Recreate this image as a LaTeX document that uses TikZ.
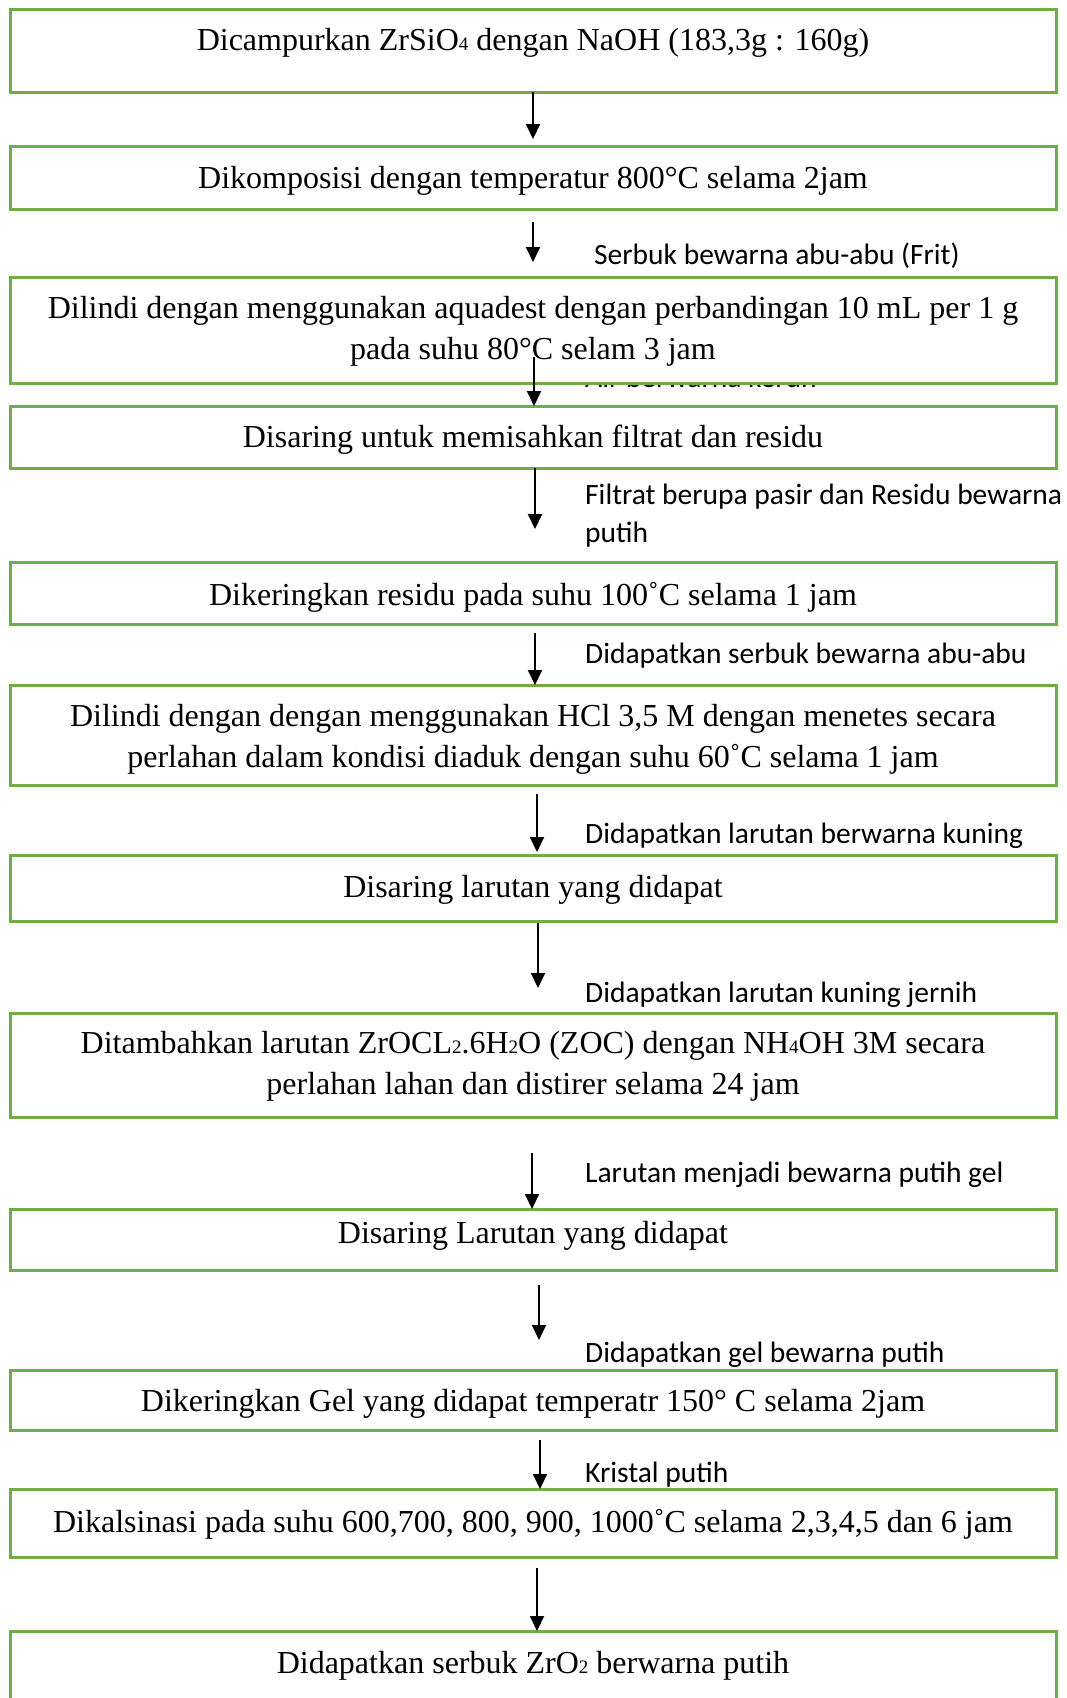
\documentclass[tikz,border=0pt]{standalone}
\usepackage{fontspec}
\setmainfont{Liberation Serif}
\newfontfamily\notefont{Carlito}
\usetikzlibrary{arrows.meta}
\definecolor{boxgreen}{RGB}{112,173,71}
\newcommand{\chemnum}[1]{{\fontsize{19}{19}\selectfont #1}}

\begin{document}
\begin{tikzpicture}[x=1pt,y=-1pt,
  stepbox/.style={draw=boxgreen, line width=3pt, fill=white, minimum width=1046pt, inner sep=0pt},
  boxtext/.style={font=\fontsize{32}{41}\selectfont, align=center, inner sep=0pt},
  note/.style={font=\notefont\fontsize{29.5}{38}\selectfont, anchor=west, align=left, inner sep=0pt},
  arrow/.style={-{Triangle[width=14pt,length=15pt]}, line width=2pt}]
\useasboundingbox (0,0) rectangle (1067,1698);

% note that box 3 hides
\node[note] (n3) at (585,377.5) {Air berwarna keruh};

% boxes
\node[stepbox, minimum height=83pt] (b1) at (533,50.5) {};
\node[stepbox, minimum height=63pt] (b2) at (533,177.5) {};
\node[stepbox, minimum height=106pt] (b3) at (533,330) {};
\node[stepbox, minimum height=62pt] (b4) at (533,437) {};
\node[stepbox, minimum height=62pt] (b5) at (533,593) {};
\node[stepbox, minimum height=100pt] (b6) at (533,735) {};
\node[stepbox, minimum height=66pt] (b7) at (533,888) {};
\node[stepbox, minimum height=104pt] (b8) at (533,1065) {};
\node[stepbox, minimum height=61pt] (b9) at (533,1239.5) {};
\node[stepbox, minimum height=60pt] (b10) at (533,1400) {};
\node[stepbox, minimum height=68pt] (b11) at (533,1523) {};
\node[stepbox, minimum height=129pt] (b12) at (533,1695.5) {};

% box texts
\node[boxtext] (t1) at (533,43) {Dicampurkan ZrSiO\chemnum{4} dengan NaOH (183,3g : 160g)};
\node[boxtext] (t2) at (533,181) {Dikomposisi dengan temperatur 800°C selama 2jam};
\node[boxtext] (t3) at (533,331) {Dilindi dengan menggunakan aquadest dengan perbandingan 10 mL per 1 g\\pada suhu 80°C selam 3 jam};
\node[boxtext] (t4) at (533,440) {Disaring untuk memisahkan filtrat dan residu};
\node[boxtext] (t5) at (533,597) {Dikeringkan residu pada suhu 100˚C selama 1 jam};
\node[boxtext] (t6) at (533,739) {Dilindi dengan dengan menggunakan HCl 3,5 M dengan menetes secara\\perlahan dalam kondisi diaduk dengan suhu 60˚C selama 1 jam};
\node[boxtext] (t7) at (533,890) {Disaring larutan yang didapat};
\node[boxtext] (t8) at (533,1066.5) {Ditambahkan larutan ZrOCL\chemnum{2}.6H\chemnum{2}O (ZOC) dengan NH\chemnum{4}OH 3M secara\\perlahan lahan dan distirer selama 24 jam};
\node[boxtext] (t9) at (533,1236) {Disaring Larutan yang didapat};
\node[boxtext] (t10) at (533,1404) {Dikeringkan Gel yang didapat temperatr 150° C selama 2jam};
\node[boxtext] (t11) at (533,1524) {Dikalsinasi pada suhu 600,700, 800, 900, 1000˚C selama 2,3,4,5 dan 6 jam};
\node[boxtext] (t12) at (533,1666) {Didapatkan serbuk ZrO\chemnum{2} berwarna putih};

% notes beside the arrows
\node[note] (n2) at (594,256) {Serbuk bewarna abu-abu (Frit)};
\node[note] (n4) at (585,516) {Filtrat berupa pasir dan Residu bewarna\\putih};
\node[note] (n5) at (585,656) {Didapatkan serbuk bewarna abu-abu};
\node[note] (n6) at (585,836) {Didapatkan larutan berwarna kuning};
\node[note] (n7) at (585,995) {Didapatkan larutan kuning jernih};
\node[note] (n8) at (585,1175) {Larutan menjadi bewarna putih gel};
\node[note] (n9) at (585,1355) {Didapatkan gel bewarna putih};
\node[note] (n10) at (585,1475) {Kristal putih};

% arrow ends
\coordinate (s1) at (533,92);   \coordinate (e1) at (533,139);
\coordinate (s2) at (533,222);  \coordinate (e2) at (533,262);
\coordinate (s3) at (534,357);  \coordinate (e3) at (534,406);
\coordinate (s4) at (535,468);  \coordinate (e4) at (535,529);
\coordinate (s5) at (535,633);  \coordinate (e5) at (535,685);
\coordinate (s6) at (537,794);  \coordinate (e6) at (537,852);
\coordinate (s7) at (538,923);  \coordinate (e7) at (538,988);
\coordinate (s8) at (532,1153); \coordinate (e8) at (532,1209);
\coordinate (s9) at (539,1285); \coordinate (e9) at (539,1340);
\coordinate (s10) at (540,1440); \coordinate (e10) at (540,1489);
\coordinate (s11) at (537,1568); \coordinate (e11) at (537,1631);

\draw[arrow] (s1) -- (e1);
\draw[arrow] (s2) -- (e2);
\draw[arrow] (s3) -- (e3);
\draw[arrow] (s4) -- (e4);
\draw[arrow] (s5) -- (e5);
\draw[arrow] (s6) -- (e6);
\draw[arrow] (s7) -- (e7);
\draw[arrow] (s8) -- (e8);
\draw[arrow] (s9) -- (e9);
\draw[arrow] (s10) -- (e10);
\draw[arrow] (s11) -- (e11);
\end{tikzpicture}
\end{document}
